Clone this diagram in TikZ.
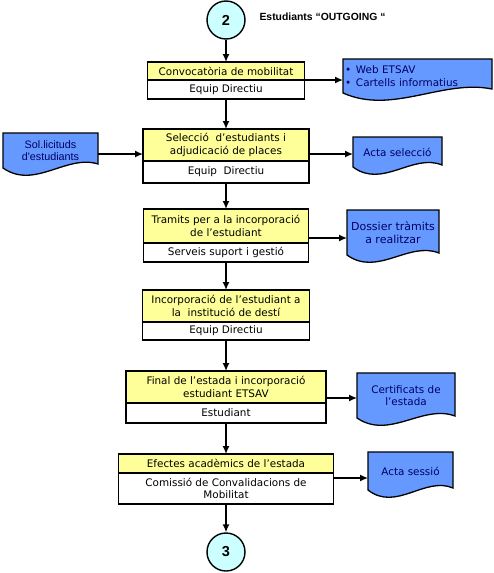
\documentclass[tikz,border=0pt]{standalone}
\usepackage{fontspec}
\setmainfont{DejaVu Sans}
\newfontfamily\arialfont{Liberation Sans}
\usepackage{tikz}
\usetikzlibrary{arrows.meta,positioning,calc,backgrounds}
\definecolor{boxyellow}{RGB}{255,255,153}
\definecolor{docblue}{RGB}{102,153,255}
\definecolor{docnavy}{RGB}{0,0,102}
\definecolor{linkcyan}{RGB}{204,255,255}

\begin{document}
\begin{tikzpicture}[x=1pt,y=1pt,
  every node/.style={font=\fontsize{10.4}{12.5}\selectfont},
  link/.style={draw,line width=1.4pt,-{Latex[length=8pt,width=7pt]}},
  task/.style={draw,line width=1.3pt,fill=boxyellow,anchor=north,outer sep=0pt,inner sep=1pt,align=center},
  actor/.style={task,fill=white},
  docu/.style={anchor=north west,outer sep=0pt,inner sep=2pt,text=docnavy,align=center},
  docshape/.style={fill=docblue,draw=black,line width=1.3pt},
  conn/.style={circle,draw,line width=1.4pt,fill=linkcyan,minimum size=38pt,inner sep=0pt,
    font=\arialfont\bfseries\fontsize{14.5}{14.5}\selectfont}]
  \useasboundingbox (0,0) rectangle (493,-573);

  % connectors
  \node[conn] (c2) at (226,-20) {2};
  \node[conn] (c3) at (226,-552) {3};
  \node[anchor=west,font=\arialfont\bfseries\fontsize{10.4}{12}\selectfont] (title) at (256,-17)
    {Estudiants “OUTGOING “};

  % process boxes: activity on top, who does it below
  \foreach \i/\yy/\ww/\hy/\hw/\lbl/\own in {
      1/62/157/18/19/{Convocatòria de mobilitat}/{Equip Directiu},
      2/129/166/32/22/{Selecció\ \ d’estudiants i\\adjudicació de places}/{Equip\ \ Directiu},
      3/209/165/34/19/{Tramits per a la incorporació\\de l’estudiant}/{Serveis suport i gestió},
      4/290/167/32/18/{Incorporació de l’estudiant a\\la\ \ institució de destí}/{Equip Directiu},
      5/371/200/32/20/{Final de l’estada i incorporació\\estudiant ETSAV}/{Estudiant},
      6/454/215/19/31/{Efectes acadèmics de l’estada}/{Comissió de Convalidacions de\\Mobilitat}}
  {
    \node[task,minimum width=\ww pt,minimum height=\hy pt] (p\i) at (226,-\yy) {\lbl};
    \node[actor,minimum width=\ww pt,minimum height=\hw pt,below=0pt of p\i] (r\i) {\own};
  }

  % documents
  \node[docu,minimum width=149pt,minimum height=34pt,text width=145pt,align=left] (web) at (343,-59)
    {\makebox[11pt][l]{\textbullet}Web ETSAV\\\makebox[11pt][l]{\textbullet}Cartells informatius};
  \node[docu,minimum width=95pt,minimum height=35pt,font=\arialfont\fontsize{10.8}{11.5}\selectfont] (sol) at (3,-133)
    {Sol.licituds\\d'estudiants};
  \node[docu,minimum width=89pt,minimum height=30pt] (asel) at (353,-137) {Acta selecció};
  \node[docu,minimum width=92pt,minimum height=45pt,font=\fontsize{11}{13}\selectfont] (dos) at (347,-210)
    {Dossier tràmits\\a realitzar};
  \node[docu,minimum width=98pt,minimum height=45pt] (cert) at (357,-373) {Certificats de\\l’estada};
  \node[docu,minimum width=85pt,minimum height=38pt] (asess) at (368,-452) {Acta sessió};

  \begin{scope}[on background layer]
    \foreach \d/\r in {web/4,sol/4,asel/2,dos/2,cert/2,asess/2}
      \draw[docshape] (\d.north west) -- (\d.north east) -- ([yshift=\r pt]\d.south east)
        .. controls ($(\d.south west)!.67!(\d.south east)+(0,14)$)
        and ($(\d.south west)!.33!(\d.south east)+(0,-22)$) .. (\d.south west) -- cycle;
  \end{scope}

  % flow
  \foreach \a/\b in {c2/p1,r1/p2,r2/p3,r3/p4,r4/p5,r5/p6,r6/c3}
    \draw[link] (\a) -- (\b);

  \coordinate (k2) at ([yshift=7pt]p2.south east);
  \coordinate (k3) at ([yshift=5pt]p3.south east);
  \coordinate (k5) at ([yshift=5pt]p5.south east);
  \coordinate (k6) at ([yshift=-5pt]p6.south east);
  \draw[link] (p1.south east) -- (p1.south east -| web.west);
  \draw[link] (k2 -| sol.east) -- (k2 -| p2.west);
  \draw[link] (k2) -- (k2 -| asel.west);
  \draw[link] (k3) -- (k3 -| dos.west);
  \draw[link] (k5) -- (k5 -| cert.west);
  \draw[link] (k6) -- (k6 -| asess.west);
\end{tikzpicture}
\end{document}
